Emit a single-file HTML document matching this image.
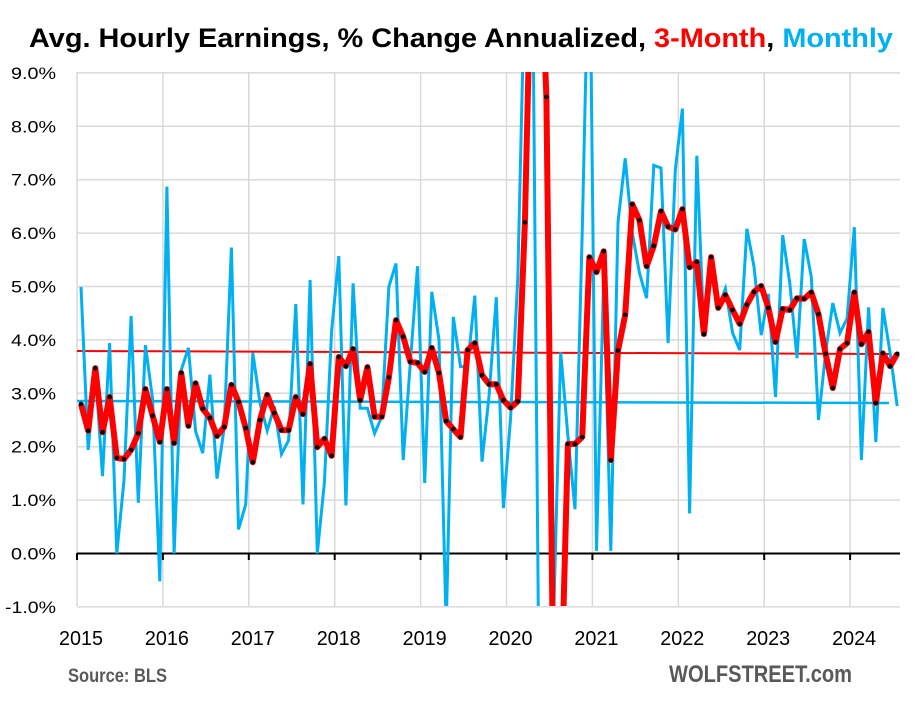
<!DOCTYPE html>
<html><head><meta charset="utf-8"><style>
html,body{margin:0;padding:0;background:#fff;width:915px;height:710px;overflow:hidden;}
svg{display:block;}
</style></head><body><svg id="c" width="915" height="710" xmlns="http://www.w3.org/2000/svg" font-family="Liberation Sans, sans-serif">
<rect width="915" height="710" fill="#fff"/>
<g id="grid" stroke="#d9d9d9" stroke-width="1.5"></g>
<g id="ylab" font-size="17" fill="#000" text-anchor="end"></g>
<g id="xlab" font-size="20" fill="#000" text-anchor="middle"></g>
<defs><clipPath id="pc"><rect x="77" y="72" width="828" height="534"/></clipPath></defs>
<line x1="77" y1="351" x2="889" y2="354" stroke="#ff0000" stroke-width="2"/>
<line x1="77" y1="401" x2="889" y2="403" stroke="#00b0f0" stroke-width="2.5"/>
<line x1="77" y1="553.5" x2="900" y2="553.5" stroke="#000" stroke-width="2"/>
<g id="ticks" stroke="#000" stroke-width="2"></g>
<g clip-path="url(#pc)">
<path id="blue" fill="none" stroke="#00b0f0" stroke-width="3" stroke-linejoin="miter"/>
<path id="red" fill="none" stroke="#ff0000" stroke-width="6" stroke-linejoin="round"/>
<g id="dots" fill="#000"></g>
</g>
<text x="29" y="47" font-size="27" font-weight="bold" textLength="864" lengthAdjust="spacingAndGlyphs">Avg. Hourly Earnings, % Change Annualized, <tspan fill="#ff0000">3-Month</tspan>, <tspan fill="#00b0f0">Monthly</tspan></text>
<text x="68" y="682" font-size="19" font-weight="bold" fill="#595959" textLength="99" lengthAdjust="spacingAndGlyphs">Source: BLS</text>
<text x="669" y="682" font-size="24" font-weight="bold" fill="#595959" textLength="183" lengthAdjust="spacingAndGlyphs">WOLFSTREET.com</text>
</svg><script>
var NS="http://www.w3.org/2000/svg";
function el(t,a,p){var e=document.createElementNS(NS,t);for(var k in a)e.setAttribute(k,a[k]);document.getElementById(p).appendChild(e);return e;}
function Y(v){v=Math.max(-3,Math.min(12,v));return 553.5-v*53.4;}
function X(i){return 81+i*7.16;}
for(var v=-1;v<=9;v++){el('line',{x1:77,x2:900,y1:Y(v),y2:Y(v)},'grid');
 var t=el('text',{x:56,y:Y(v)+6,textLength:(v<0?51:45),lengthAdjust:'spacingAndGlyphs'},'ylab');t.textContent=v.toFixed(1)+'%';}
for(var k=0;k<10;k++){var gx=77+k*85.9;el('line',{x1:gx,x2:gx,y1:72,y2:606},'grid');
 el('line',{x1:gx,x2:gx,y1:553,y2:560},'ticks');
 var t=el('text',{x:gx+4,y:645,textLength:44,lengthAdjust:'spacingAndGlyphs'},'xlab');t.textContent=2015+k;}
var red=[2.8,2.3,3.47,2.27,2.93,1.79,1.77,1.94,2.25,3.08,2.58,2.09,3.08,2.07,3.38,2.39,3.19,2.71,2.54,2.2,2.37,3.16,2.84,2.35,1.71,2.5,2.97,2.63,2.31,2.31,2.93,2.61,3.55,1.99,2.15,1.83,3.68,3.51,
3.83,2.87,3.49,2.56,2.56,3.3,4.37,4.06,3.59,3.57,3.4,3.85,3.38,2.48,2.33,2.18,3.81,3.94,3.34,3.17,3.17,2.87,2.73,2.85,
6.2,20,20,8.55,-10,-10,2.05,2.05,2.18,
5.55,5.27,5.66,1.75,3.8,4.47,6.54,6.24,5.38,5.76,6.41,6.12,6.07,6.45,5.36,5.46,4.11,5.55,4.6,4.84,4.56,4.3,4.66,4.9,5.01,4.6,3.96,4.58,4.56,4.78,4.77,4.89,4.48,3.74,3.1,3.83,3.94,4.89,3.92,4.15,2.82,3.75,3.51,3.74];
var blue=[4.99,1.94,3.45,1.45,3.94,0.0,1.37,4.45,0.95,3.9,2.89,-0.52,6.87,0.0,3.43,3.85,2.29,1.88,3.35,1.4,2.36,5.73,0.45,0.92,3.76,2.82,2.3,2.75,1.86,2.12,4.67,0.92,5.12,0.0,1.33,4.16,5.57,0.9,
5.06,2.72,2.72,2.25,2.56,5.0,5.43,1.75,3.59,5.38,1.32,4.9,4.0,-1.4,4.43,3.5,3.5,4.83,1.72,2.96,4.8,0.85,2.54,5.16,
10.9,40,-20,-15,-1.2,3.77,2.2,0.83,6,14,0.05,5.2,0.05,6.2,7.4,6.0,5.25,4.78,7.27,7.22,3.94,7.18,8.33,0.75,7.45,4.1,5.5,4.6,4.96,4.13,3.81,6.08,5.37,4.09,4.86,2.93,5.96,5.06,3.66,5.89,5.18,2.5,3.76,4.69,4.13,4.4,6.11,1.75,4.61,2.09,4.6,3.76,2.76];
function pd(a){return a.map(function(v,i){return (i?'L':'M')+X(i).toFixed(1)+' '+Y(v).toFixed(1);}).join(' ');}
document.getElementById('blue').setAttribute('d',pd(blue));
document.getElementById('red').setAttribute('d',pd(red));
red.forEach(function(v,i){if(v<9.2&&v>-1.2)el('circle',{cx:X(i),cy:Y(v),r:2.3},'dots');});
</script></body></html>
